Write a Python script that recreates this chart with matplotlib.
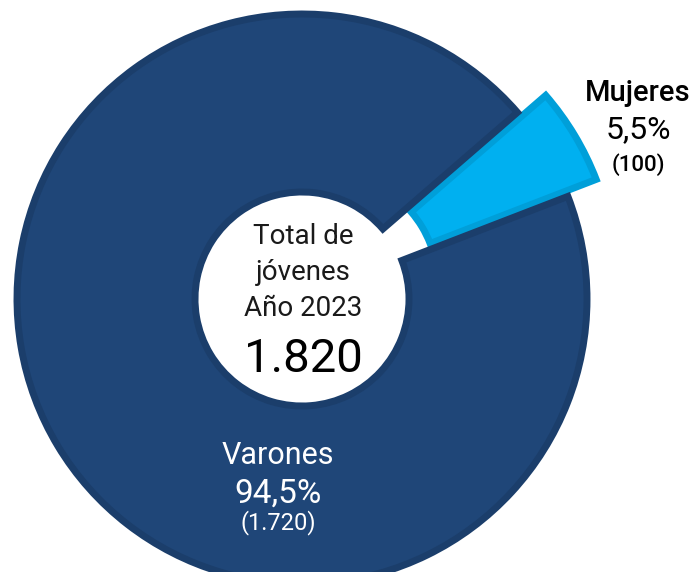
import matplotlib
matplotlib.use("Agg")
from matplotlib import pyplot

labels = ["Mujeres", "Varones"]
shares = [5.5, 94.5]
counts = ["(100)", "(1.720)"]
pct_text = ["5,5%", "94,5%"]
fills = ["#00B0F0", "#1F4678"]
edges = ["#009FD9", "#1B3E6B"]
total_lines = ["Total de", "jóvenes", "Año 2023"]
total_value = "1.820"

pyplot.rcParams['font.family'] = ['Roboto', 'DejaVu Sans']

fig = pyplot.figure(figsize=(6.99, 5.72), dpi=100)
ax = fig.add_axes([0, 0, 1, 1])

# work in pixel units, y measured from the bottom
H = 572
cx, cy, R = 302, H - 299, 285
start = 31 - 360 * shares[0] / 100 / 2  # mujeres wedge centred near 31 deg
wedges, _ = ax.pie(shares, startangle=start, counterclock=True, center=(cx, cy), radius=R,
                   explode=[33, 0], colors=fills, frame=True,
                   wedgeprops=dict(width=178, linewidth=5, joinstyle='miter'))
for w, ec in zip(wedges, edges):
    w.set_edgecolor(ec)
ax.set_xlim(0, 699)
ax.set_ylim(0, H)
ax.set_aspect('equal')
ax.axis('off')

# centre text
for t, y in zip(total_lines, [237, 272, 308]):
    ax.text(cx + 1, H - y, t, ha='center', va='center', fontsize=20, color='#1a1a1a')
ax.text(cx + 1, H - 359, total_value, ha='center', va='center', fontsize=34, color='black')

# Varones label
vx = 278
ax.text(vx, H - 455, labels[1], ha='center', va='center', fontsize=22, color='white')
ax.text(vx, H - 494, pct_text[1], ha='center', va='center', fontsize=24, color='white')
ax.text(vx, H - 523, counts[1], ha='center', va='center', fontsize=17, color='white')

# Mujeres label
mx = 638
ax.text(mx, H - 93, labels[0], ha='center', va='center', fontsize=21, color='black',
        fontweight='medium')
ax.text(mx, H - 130, pct_text[0], ha='center', va='center', fontsize=23, color='black')
ax.text(mx, H - 165, counts[0], ha='center', va='center', fontsize=16, color='black',
        fontweight='medium')

fig.savefig('out.png', dpi=100)
